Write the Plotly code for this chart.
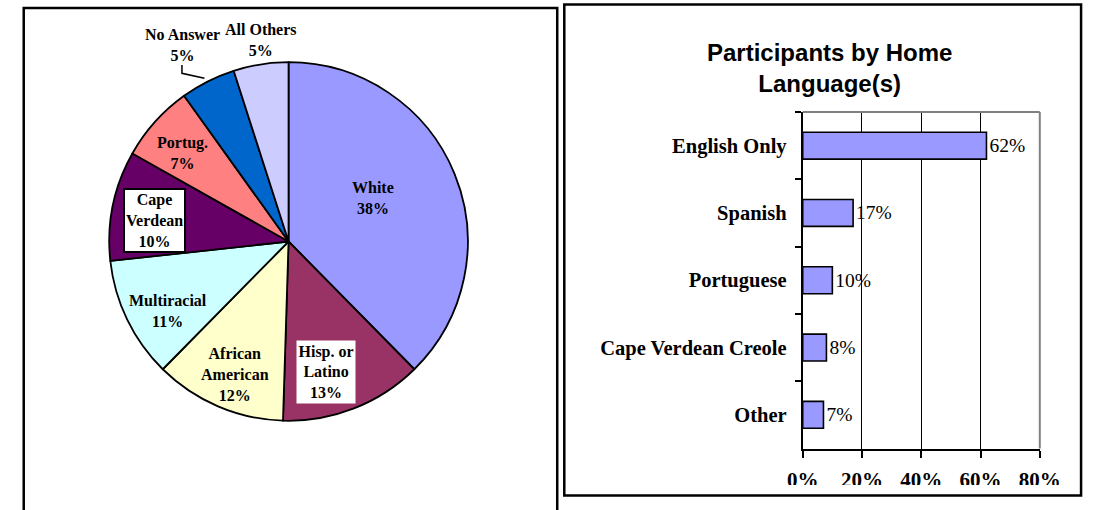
import plotly.graph_objects as go

# Participants by race / ethnicity (pie, left panel)
eth_labels = ["White", "Hisp. or Latino", "African American", "Multiracial",
              "Cape Verdean", "Portug.", "No Answer", "All Others"]
eth_values = [38, 13, 12, 11, 10, 7, 5, 5]
eth_colors = ["#9999FF", "#993366", "#FFFFCC", "#CCFFFF",
              "#660066", "#FF8080", "#0066CC", "#CCCCFF"]

# Participants by home language (bar, right panel)
lang_labels = ["English Only", "Spanish", "Portuguese", "Cape Verdean Creole", "Other"]
lang_values = [62, 17, 10, 8, 7]
x_ticks = [0, 20, 40, 60, 80]

W, H = 1104, 510


def px(x):
    return x / W


def py(y):
    return 1 - y / H


SERIF = "Liberation Serif, Times New Roman, serif"
SANS = "Liberation Sans, Arial, sans-serif"

fig = go.Figure()

# pie: centre (282, 241.5), radius 185.5 px
fig.add_trace(go.Pie(
    labels=eth_labels,
    values=eth_values,
    sort=False,
    direction="clockwise",
    rotation=0,
    marker=dict(colors=eth_colors, line=dict(color="black", width=1.8)),
    textinfo="none",
    hoverinfo="label+value",
    showlegend=False,
    domain=dict(x=[px(96.5), px(467.5)], y=[py(427), py(56)]),
))

fig.add_trace(go.Bar(
    y=lang_labels,
    x=lang_values,
    orientation="h",
    marker=dict(color="#9999FF", line=dict(color="black", width=1.6)),
    text=[f"{v}%" for v in lang_values],
    textposition="outside",
    textfont=dict(family=SERIF, size=19.5, color="black"),
    cliponaxis=False,
    width=0.4,
    showlegend=False,
    xaxis="x", yaxis="y",
))

# pie slice labels: (x, y) centre of each text block in pixels
label_pos = {
    "White": (369, 198.3),
    "Hisp. or Latino": (321, 371.7),
    "African American": (227, 374),
    "Multiracial": (157, 311),
    "Cape Verdean": (143.3, 220),
    "Portug.": (172.5, 153),
    "No Answer": (172, 45),
    "All Others": (254, 40),
}
wrapped = {
    "Hisp. or Latino": "Hisp. or<br>Latino",
    "African American": "African<br>American",
    "Cape Verdean": "Cape<br>Verdean",
}
annotations = []
for lab, val in zip(eth_labels, eth_values):
    x, y = label_pos[lab]
    a = dict(
        x=px(x), y=py(y), xref="paper", yref="paper",
        xanchor="center", yanchor="middle", showarrow=False,
        text=f"<b>{wrapped.get(lab, lab)}<br>{val}%</b>",
        font=dict(family=SERIF, size=16, color="black"),
        align="center",
    )
    if lab == "Cape Verdean":
        a.update(bgcolor="white", bordercolor="black", borderwidth=2, borderpad=1)
    if lab == "Hisp. or Latino":
        a.update(bgcolor="white", borderpad=1.5)
    annotations.append(a)

# bar chart title
annotations.append(dict(
    x=px(841.5), y=py(68), xref="paper", yref="paper",
    xanchor="center", yanchor="middle", showarrow=False,
    text="<b>Participants by Home<br>Language(s)</b>",
    font=dict(family=SANS, size=24, color="black"),
))

# plot area of bar chart
bx0, bx1 = 814, 1059.3
by0, by1 = 112, 448.5

shapes = [
    # leader line for "No Answer"
    dict(type="path", xref="paper", yref="paper",
         path=f"M {px(171.7)},{py(65)} L {px(171.7)},{py(73.3)} L {px(195)},{py(78.3)}",
         line=dict(color="black", width=1.5)),
    # gray top / right border of plot area
    dict(type="line", xref="paper", yref="paper", layer="above",
         x0=px(bx0), x1=px(bx1), y0=py(by0), y1=py(by0),
         line=dict(color="#808080", width=2)),
    dict(type="line", xref="paper", yref="paper", layer="above",
         x0=px(bx1), x1=px(bx1), y0=py(by0), y1=py(by1),
         line=dict(color="#808080", width=2)),
    # cut-off strip under the x tick labels
    dict(type="rect", xref="paper", yref="paper", layer="above",
         x0=px(569), x1=px(1100), y0=py(494), y1=py(485),
         fillcolor="white", line=dict(width=0)),
    # left panel frame
    dict(type="path", xref="paper", yref="paper", layer="above",
         path=f"M {px(8)},{py(520)} L {px(8)},{py(8)} L {px(560)},{py(8)} L {px(560)},{py(520)}",
         line=dict(color="black", width=2.5)),
    # right panel frame
    dict(type="rect", xref="paper", yref="paper", layer="above",
         x0=px(567.3), x1=px(1102), y0=py(495.5), y1=py(4.5),
         line=dict(color="black", width=2.5)),
]

fig.update_layout(
    width=W, height=H,
    autosize=False,
    margin=dict(l=0, r=0, t=0, b=0),
    paper_bgcolor="white",
    plot_bgcolor="white",
    annotations=annotations,
    shapes=shapes,
    xaxis=dict(
        domain=[px(bx0), px(bx1)],
        range=[0, 80],
        tickvals=x_ticks,
        ticktext=[f"{t}%" for t in x_ticks],
        showgrid=True, gridcolor="black", gridwidth=1,
        zeroline=False,
        showline=True, linecolor="black", linewidth=2,
        ticks="outside", ticklen=7, tickwidth=2, tickcolor="black",
        ticklabelstandoff=4,
        tickfont=dict(family=SERIF, size=21, color="black", weight="bold"),
        fixedrange=True,
    ),
    yaxis=dict(
        domain=[py(by1), py(by0)],
        type="category",
        categoryorder="array",
        categoryarray=lang_labels,
        autorange="reversed",
        showgrid=False,
        zeroline=False,
        showline=True, linecolor="black", linewidth=2,
        ticks="outside", ticklen=6, tickwidth=2, tickcolor="black",
        tickson="boundaries",
        ticklabelstandoff=10,
        tickfont=dict(family=SERIF, size=20.5, color="black", weight="bold"),
        fixedrange=True,
    ),
)

fig.write_html("out.html")
